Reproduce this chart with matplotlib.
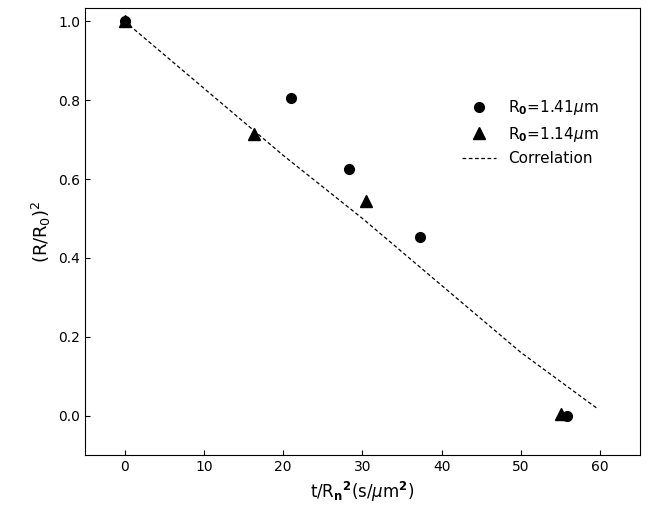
import numpy as np
import matplotlib.pyplot as plt

# data
x_141 = [0, 21.0, 28.3, 37.3, 55.8]
y_141 = [1.0, 0.805, 0.625, 0.453, 0.0]
x_114 = [0, 16.3, 30.5, 55.0]
y_114 = [1.0, 0.715, 0.545, 0.005]
x_corr = [0, 10, 20, 30, 40, 50, 59.5]
y_corr = [1.0, 0.83, 0.66, 0.50, 0.33, 0.16, 0.02]

fig = plt.figure(figsize=(6.49, 5.16), dpi=100)
ax = fig.add_axes([0.131, 0.118, 0.855, 0.866])
ax.plot(x_141, y_141, 'o', color='black', markersize=7, label=r'R$_\mathbf{0}$=1.41$\mu$m')
ax.plot(x_114, y_114, '^', color='black', markersize=8, label=r'R$_\mathbf{0}$=1.14$\mu$m')
ax.plot(x_corr, y_corr, '--', color='black', linewidth=0.9, dashes=(3, 2), label='Correlation')
ax.set_xlim(-5, 65)
ax.set_ylim(-0.1, 1.033)
ax.set_xticks(range(0, 61, 10))
ax.set_yticks(np.arange(0, 1.01, 0.2))
ax.set_yticklabels(['0.0', '0.2', '0.4', '0.6', '0.8', '1.0'])
ax.tick_params(direction='in', labelsize=10)
ax.set_xlabel(r't/R$_\mathbf{n}$$^\mathbf{2}$(s/$\mu$m$^\mathbf{2}$)', fontsize=12)
ax.set_ylabel(r'(R/R$_0$)$^2$', fontsize=13)
ax.legend(loc='upper right', bbox_to_anchor=(0.95, 0.83), frameon=False, fontsize=11, handlelength=2.2)
plt.savefig('out.png')
